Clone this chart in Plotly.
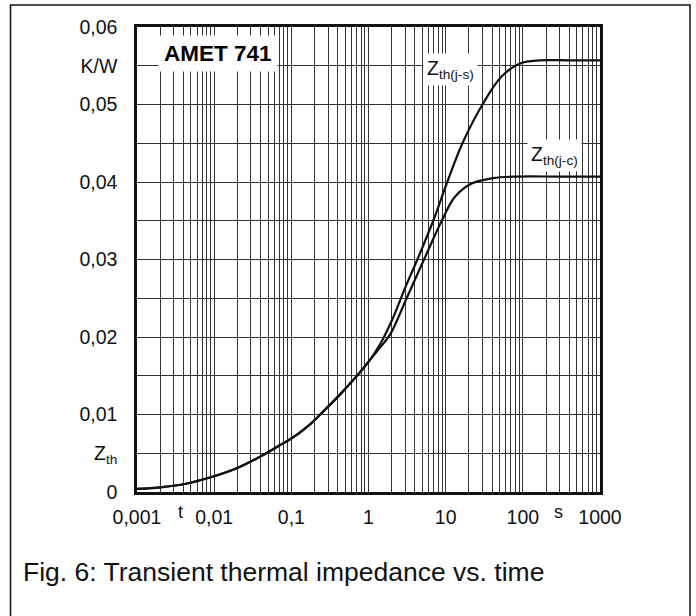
import plotly.graph_objects as go

W, H = 696, 616

# ---- data ----
t_js = [0.001, 0.002, 0.004, 0.009, 0.02, 0.04, 0.07, 0.1, 0.16, 0.26, 0.42, 0.668, 1.0, 1.4, 2.0, 3.0, 4.3, 6.9, 10.5, 16.5, 30, 53, 92, 166, 400, 1000]
z_js = [0.0004, 0.0006, 0.0010, 0.0019, 0.0031, 0.0046, 0.0060, 0.0069, 0.0084, 0.0104, 0.0125, 0.0147, 0.0168, 0.0190, 0.0221, 0.0264, 0.0300, 0.0350, 0.0400, 0.0450, 0.0500, 0.0536, 0.0553, 0.0557, 0.0557, 0.0557]

t_jc = [0.001, 0.002, 0.004, 0.009, 0.02, 0.04, 0.07, 0.1, 0.16, 0.26, 0.42, 0.668, 1.0, 1.4, 1.9, 3.12, 5.24, 8.9, 13.2, 21.7, 41, 80, 300, 1000]
z_jc = [0.0004, 0.0006, 0.0010, 0.0019, 0.0031, 0.0046, 0.0060, 0.0069, 0.0084, 0.0104, 0.0125, 0.0147, 0.0168, 0.0186, 0.0203, 0.0250, 0.0300, 0.0350, 0.0381, 0.0398, 0.0405, 0.0407, 0.0407, 0.0407]

x_major_labels = ["0,001", "0,01", "0,1", "1", "10", "100", "1000"]
y_ticks = [0, 0.005, 0.01, 0.015, 0.02, 0.025, 0.03, 0.035, 0.04, 0.045, 0.05, 0.055, 0.06]
y_labels = ["0", "Z<sub>th</sub>", "0,01", "", "0,02", "", "0,03", "", "0,04", "", "0,05", "K/W", "0,06"]

# ---- layout geometry (pixels) ----
L, R, T, B = 137, 600, 27, 492

xt, xl = [], []
for d in range(-3, 3):
    for k in range(1, 10):
        xt.append(k * 10 ** d)
        xl.append(x_major_labels[d + 3] if k == 1 else "")
xt.append(1000)
xl.append("1000")

FONT = "Liberation Sans, Arial, Helvetica, sans-serif"

fig = go.Figure()
line = dict(color="#111", width=2.2, shape="spline", smoothing=1.0)
fig.add_trace(go.Scatter(x=t_js, y=z_js, mode="lines", line=line, name="Zth(j-s)"))
fig.add_trace(go.Scatter(x=t_jc, y=z_jc, mode="lines", line=line, name="Zth(j-c)"))

fig.update_layout(
    template="none",
    width=W, height=H,
    margin=dict(l=0, r=0, t=0, b=0, pad=0, autoexpand=False),
    paper_bgcolor="white", plot_bgcolor="white",
    showlegend=False,
    font=dict(family=FONT, size=19.5, color="#111"),
    xaxis=dict(
        type="log", range=[-3, 3],
        domain=[L / W, R / W],
        tickmode="array", tickvals=xt, ticktext=xl,
        ticks="", ticklabelstandoff=6, automargin=False,
        showgrid=True, gridcolor="#333", gridwidth=1,
        showline=True, linecolor="#111", linewidth=2.5, mirror=True,
        zeroline=False, fixedrange=True,
    ),
    yaxis=dict(
        range=[0, 0.06],
        domain=[1 - B / H, 1 - T / H],
        tickmode="array", tickvals=y_ticks, ticktext=y_labels,
        ticks="", ticklabelstandoff=13, automargin=False,
        showgrid=True, gridcolor="#333", gridwidth=1,
        showline=True, linecolor="#111", linewidth=2.5, mirror=True,
        zeroline=False, fixedrange=True,
    ),
)

def lx(px):
    return (px - L) / (R - L) * 6 - 3

def zy(py):
    return (B - py) / (B - T) * 0.06

annos = [
    dict(text="<b>AMET 741</b>", x=lx(218), y=zy(54), font=dict(size=22.5, color="#000"),
         bgcolor="white", borderpad=5),
    dict(text="Z<sub>th(j-s)</sub>", x=lx(450), y=zy(70), font=dict(size=19.5),
         bgcolor="white", borderpad=3),
    dict(text="Z<sub>th(j-c)</sub>", x=lx(554), y=zy(156), font=dict(size=19.5),
         bgcolor="white", borderpad=3),
]
for a in annos:
    a.update(xref="x", yref="y", showarrow=False, xanchor="center", yanchor="middle")
    fig.add_annotation(**a)

# axis unit letters
fig.add_annotation(text="t", x=181 / W, y=1 - 512 / H, xref="paper", yref="paper",
                   showarrow=False, font=dict(size=18), xanchor="center", yanchor="middle")
fig.add_annotation(text="s", x=558 / W, y=1 - 512 / H, xref="paper", yref="paper",
                   showarrow=False, font=dict(size=18), xanchor="center", yanchor="middle")

# caption
fig.add_annotation(text="Fig. 6: Transient thermal impedance vs. time", x=21 / W, y=1 - 572 / H,
                   xref="paper", yref="paper", showarrow=False, font=dict(size=26.5, color="#111"),
                   xanchor="left", yanchor="middle")

# outer frame
fig.add_shape(type="rect", xref="paper", yref="paper",
              x0=10.5 / W, x1=690 / W, y0=-0.1, y1=1 - 5 / H,
              line=dict(color="#111", width=1.5), fillcolor="rgba(0,0,0,0)", layer="above")

fig.write_html("out.html", config={"displayModeBar": False},
               post_script="document.body.style.margin='0px';")
